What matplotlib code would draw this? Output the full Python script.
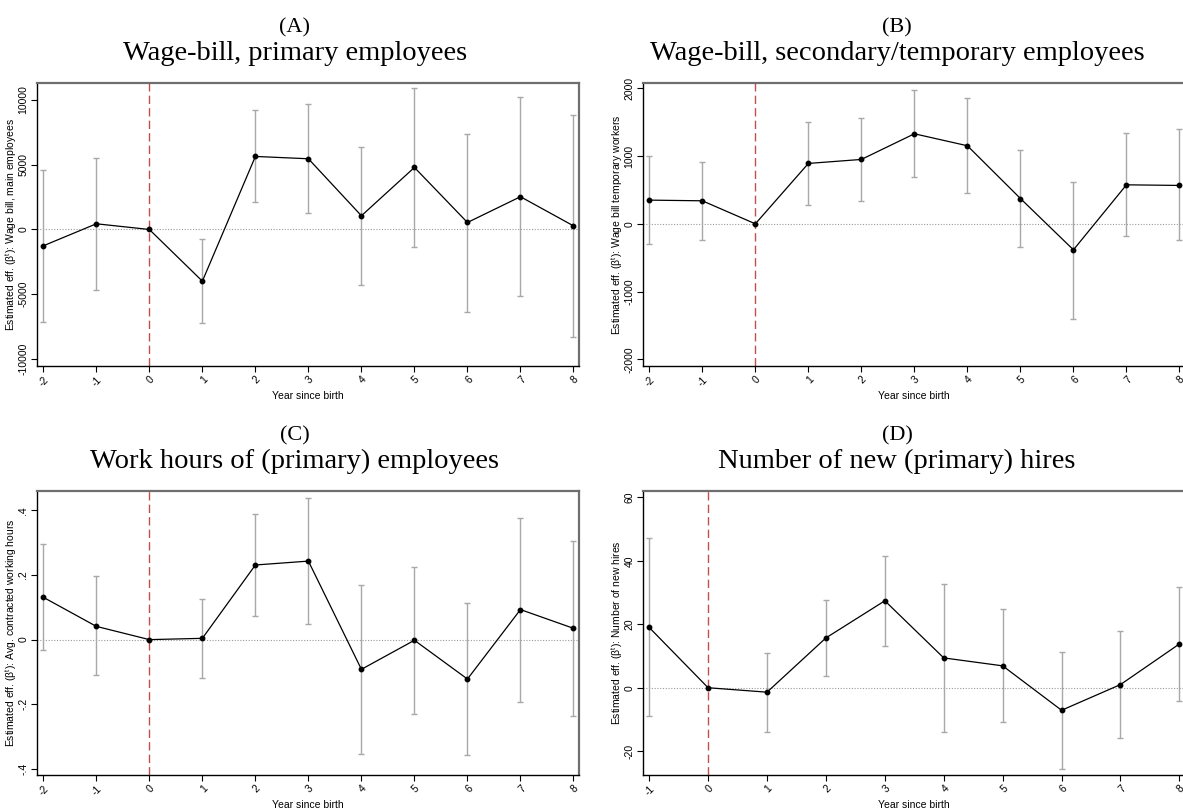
import numpy as np
import matplotlib
matplotlib.use("Agg")
import matplotlib.pyplot as plt
from matplotlib.ticker import FixedLocator, FixedFormatter

# ---- event-study estimates (point, upper CI, lower CI); year 0 is the reference ----
years_a = [-2, -1, 0, 1, 2, 3, 4, 5, 6, 7, 8]
coef_a = [-1260, 440, 0, -3990, 5640, 5460, 1060, 4790, 540, 2530, 280]
hi_a = [4560, 5490, np.nan, -750, 9200, 9660, 6370, 10900, 7400, 10260, 8810]
lo_a = [-7110, -4640, np.nan, -7190, 2110, 1240, -4300, -1390, -6340, -5150, -8270]

years_b = [-2, -1, 0, 1, 2, 3, 4, 5, 6, 7, 8]
coef_b = [350, 340, 0, 892, 951, 1330, 1153, 374, -384, 576, 567]
hi_b = [1000, 916, np.nan, 1507, 1567, 1970, 1862, 1094, 621, 1335, 1394]
lo_b = [-296, -232, np.nan, 276, 330, 685, 448, -345, -1399, -187, -241]

years_c = [-2, -1, 0, 1, 2, 3, 4, 5, 6, 7, 8]
coef_c = [0.131, 0.041, 0, 0.004, 0.231, 0.243, -0.092, -0.002, -0.122, 0.093, 0.035]
hi_c = [0.296, 0.196, np.nan, 0.126, 0.388, 0.438, 0.170, 0.225, 0.113, 0.376, 0.305]
lo_c = [-0.033, -0.111, np.nan, -0.118, 0.074, 0.047, -0.355, -0.229, -0.358, -0.192, -0.235]

years_d = [-1, 0, 1, 2, 3, 4, 5, 6, 7, 8]
coef_d = [19.0, 0, -1.4, 15.7, 27.4, 9.4, 6.9, -7.1, 1.0, 13.8]
hi_d = [47.2, np.nan, 10.9, 27.6, 41.4, 32.8, 24.8, 11.2, 18.0, 31.9]
lo_d = [-9.0, np.nan, -13.8, 3.8, 13.2, -13.8, -10.8, -25.5, -15.7, -4.3]

yticks_a = [-10000, -5000, 0, 5000, 10000]
yticks_b = [-2000, -1000, 0, 1000, 2000]
yticks_c = [-0.4, -0.2, 0, 0.2, 0.4]
ytlabels_c = ["-.4", "-.2", "0", ".2", ".4"]
yticks_d = [-20, 0, 20, 40, 60]

panel_tags = ["(A)", "(B)", "(C)", "(D)"]
panel_titles = [
    "Wage-bill, primary employees",
    "Wage-bill, secondary/temporary employees",
    "Work hours of (primary) employees",
    "Number of new (primary) hires",
]
ylabels = [
    "Estimated eff. (β$^{\\mathrm{t}}$): Wage bill, main employees",
    "Estimated eff. (β$^{\\mathrm{t}}$): Wage bill temporary workers",
    "Estimated eff. (β$^{\\mathrm{t}}$): Avg. contracted working hours",
    "Estimated eff. (β$^{\\mathrm{t}}$): Number of new hires",
]
xlabel = "Year since birth"

W, H = 1183, 808
fig = plt.figure(figsize=(W / 100, H / 100), dpi=100)
fig.patch.set_facecolor("white")

plt.rcParams["font.family"] = ["Liberation Sans", "DejaVu Sans"]
plt.rcParams["mathtext.fontset"] = "custom"
plt.rcParams["mathtext.rm"] = "Liberation Sans"

SERIF = ["Liberation Serif", "DejaVu Serif"]
GRAY_CI = "#a8a8a8"
RED = "#c0504d"


def px_axes(left, top, right, bottom):
    return fig.add_axes([left / W, 1 - bottom / H, (right - left) / W, (bottom - top) / H])


specs = [
    dict(box=(36.7, 83, 579.3, 366), x=years_a, y=coef_a, hi=hi_a, lo=lo_a,
         xlim=(-2.125, 8.11), ylim=(-10540, 11310), yt=yticks_a, ytl=[str(v) for v in yticks_a],
         tcx=295),
    dict(box=(642.7, 83, 1185.3, 366), x=years_b, y=coef_b, hi=hi_b, lo=lo_b,
         xlim=(-2.125, 8.11), ylim=(-2100, 2080), yt=yticks_b, ytl=[str(v) for v in yticks_b],
         tcx=897),
    dict(box=(36.7, 491, 579.3, 775), x=years_c, y=coef_c, hi=hi_c, lo=lo_c,
         xlim=(-2.125, 8.11), ylim=(-0.419, 0.46), yt=yticks_c, ytl=ytlabels_c,
         tcx=295),
    dict(box=(642.7, 491, 1185.3, 775), x=years_d, y=coef_d, hi=hi_d, lo=lo_d,
         xlim=(-1.11, 8.1), ylim=(-27.5, 62.0), yt=yticks_d, ytl=[str(v) for v in yticks_d],
         tcx=897),
]

for i, s in enumerate(specs):
    l, t, r, b = s["box"]
    ax = px_axes(l, t, r, b)
    x = np.array(s["x"], dtype=float)
    y = np.array(s["y"], dtype=float)
    hi = np.array(s["hi"], dtype=float)
    lo = np.array(s["lo"], dtype=float)

    # reference lines
    ax.axhline(0, color="#9a9a9a", lw=0.8, ls=(0, (1, 1.5)), zorder=1)
    ax.axvline(0, color=RED, lw=1.0, ls=(0, (6, 3)), zorder=2)

    # confidence intervals
    ok = ~np.isnan(hi)
    ax.vlines(x[ok], lo[ok], hi[ok], color=GRAY_CI, lw=1.0, zorder=3)
    ax.plot(x[ok], hi[ok], ls="none", marker="_", ms=5, mew=1.0, color=GRAY_CI, zorder=3)
    ax.plot(x[ok], lo[ok], ls="none", marker="_", ms=5, mew=1.0, color=GRAY_CI, zorder=3)

    # point estimates
    ax.plot(x, y, color="black", lw=0.9, marker="o", ms=3.2, mfc="black", mec="black", zorder=4)

    ax.set_xlim(*s["xlim"])
    ax.set_ylim(*s["ylim"])

    ax.xaxis.set_major_locator(FixedLocator(x))
    ax.set_xticklabels([str(int(v)) for v in x], rotation=45, ha="right", va="top",
                       rotation_mode="anchor", fontsize=7.5)
    ax.yaxis.set_major_locator(FixedLocator(s["yt"]))
    ax.yaxis.set_major_formatter(FixedFormatter(s["ytl"]))
    for lab in ax.get_yticklabels():
        lab.set_rotation(90)
        lab.set_va("center")
        lab.set_fontsize(7.5)

    ax.tick_params(axis="both", direction="out", length=4, width=0.8, color="black", pad=2)

    for side in ("left", "bottom"):
        ax.spines[side].set_color("black")
        ax.spines[side].set_linewidth(1.0)
    for side in ("top", "right"):
        ax.spines[side].set_color("#6e6e6e")
        ax.spines[side].set_linewidth(1.6)

    ax.set_xlabel(xlabel, fontsize=7.5, labelpad=2)
    ax.set_ylabel(ylabels[i], fontsize=7.5, va="center")
    ax.yaxis.set_label_coords(-26.0 / (r - l), 0.5)

    # panel headings
    fig.text(s["tcx"] / W, 1 - (t - 51) / H, panel_tags[i], family=SERIF, fontsize=16,
             ha="center", va="baseline")
    fig.text(s["tcx"] / W, 1 - (t - 23) / H, panel_titles[i], family=SERIF, fontsize=20.5,
             ha="center", va="baseline")

fig.savefig("out.png", dpi=100, facecolor="white")
